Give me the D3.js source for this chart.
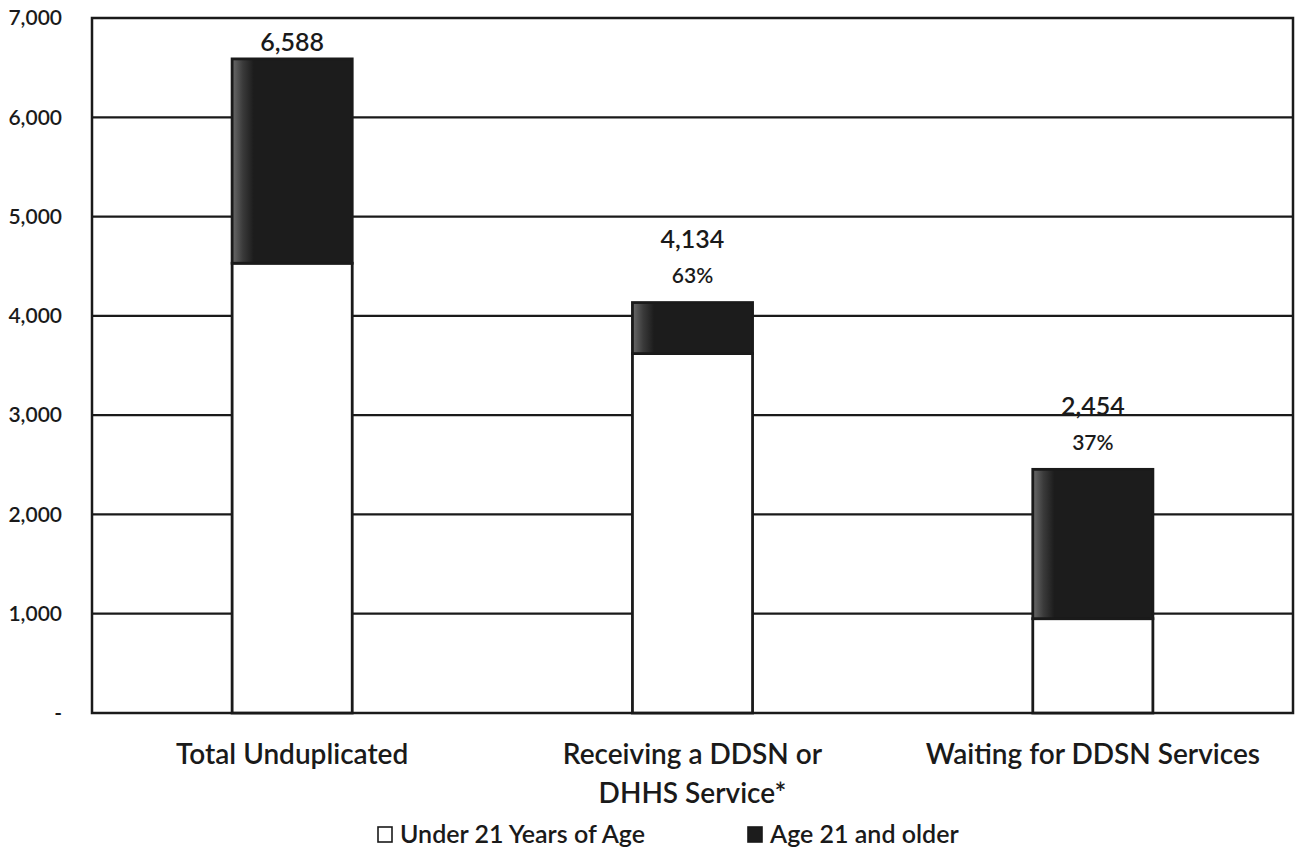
<!DOCTYPE html>
<html>
<head>
<meta charset="utf-8">
<script src="https://cdn.jsdelivr.net/npm/d3@7"></script>
<style>
  html, body { margin: 0; padding: 0; background: #fff; }
  svg { display: block; }
  text { font-family: Lato, "Open Sans", sans-serif; fill: #1a1a1a; }
</style>
</head>
<body>
<svg id="chart" width="1304" height="849"></svg>
<script>
// Program counts by age group
const categories = ["Total Unduplicated", "Receiving a DDSN or\nDHHS Service*", "Waiting for DDSN Services"];
const under21 = [4530, 3620, 950];
const age21Plus = [2058, 514, 1504];
const totalLabels = ["6,588", "4,134", "2,454"];
const shareLabels = ["", "63%", "37%"];
const seriesNames = ["Under 21 Years of Age", "Age 21 and older"];
const yTicks = [0, 1000, 2000, 3000, 4000, 5000, 6000, 7000];

const svg = d3.select("#chart");
const plot = { left: 92, right: 1293, top: 18, bottom: 713 };

const x = d3.scaleBand()
  .domain(categories)
  .range([plot.left, plot.right])
  .paddingInner(0.7)
  .paddingOuter(0.35);

const y = d3.scaleLinear().domain([0, 7000]).range([plot.bottom, plot.top]);

const ink = "#1a1a1a";
const dark = "#1c1c1c";

// gradient giving the dark segments a lighter left edge
const defs = svg.append("defs");
const grad = defs.append("linearGradient").attr("id", "darkFill").attr("x1", 0).attr("x2", 1).attr("y1", 0).attr("y2", 0);
grad.append("stop").attr("offset", "0%").attr("stop-color", "#6a6a6a");
grad.append("stop").attr("offset", "9%").attr("stop-color", "#3a3a3a");
grad.append("stop").attr("offset", "18%").attr("stop-color", dark);
grad.append("stop").attr("offset", "100%").attr("stop-color", dark);

// horizontal gridlines
svg.append("g")
  .selectAll("line")
  .data(yTicks.filter(t => t > 0 && t < 7000))
  .join("line")
  .attr("x1", plot.left).attr("x2", plot.right)
  .attr("y1", d => y(d)).attr("y2", d => y(d))
  .attr("stroke", ink).attr("stroke-width", 2.2);

// plot frame
svg.append("rect")
  .attr("x", plot.left).attr("y", plot.top)
  .attr("width", plot.right - plot.left).attr("height", plot.bottom - plot.top)
  .attr("fill", "none").attr("stroke", ink).attr("stroke-width", 2.5);

// y axis labels
const yAxis = d3.axisLeft(y)
  .tickValues(yTicks)
  .tickSize(0)
  .tickPadding(30)
  .tickFormat(d => d === 0 ? "-" : d3.format(",")(d));
const yg = svg.append("g").attr("transform", `translate(${plot.left},0)`).call(yAxis);
yg.select(".domain").remove();
yg.selectAll("text").attr("font-size", 21).attr("font-family", "Lato, sans-serif").attr("fill", ink)
  .attr("font-weight", 600);

// stacked bars
const rows = categories.map((c, i) => ({ c, u: under21[i], a: age21Plus[i], i }));
const bars = svg.append("g");
rows.forEach(r => {
  const bx = x(r.c), bw = x.bandwidth();
  bars.append("rect")
    .attr("x", bx).attr("y", y(r.u))
    .attr("width", bw).attr("height", y(0) - y(r.u))
    .attr("fill", "#fff").attr("stroke", ink).attr("stroke-width", 2.8);
  bars.append("rect")
    .attr("x", bx).attr("y", y(r.u + r.a))
    .attr("width", bw).attr("height", y(r.u) - y(r.u + r.a))
    .attr("fill", "url(#darkFill)").attr("stroke", ink).attr("stroke-width", 2.8);
});

// value labels above bars
const labels = svg.append("g").attr("text-anchor", "middle").attr("font-size", 25).attr("font-weight", 600);
rows.forEach(r => {
  const cx = x(r.c) + x.bandwidth() / 2;
  const top = y(r.u + r.a);
  if (shareLabels[r.i]) {
    labels.append("text").attr("x", cx).attr("y", top - 63).attr("dy", "0.35em").text(totalLabels[r.i]);
    labels.append("text").attr("x", cx).attr("y", top - 27).attr("dy", "0.35em")
      .attr("font-size", 21).text(shareLabels[r.i]);
  } else {
    labels.append("text").attr("x", cx).attr("y", top - 17).attr("dy", "0.35em").text(totalLabels[r.i]);
  }
});

// category labels
const xl = svg.append("g").attr("text-anchor", "middle").attr("font-size", 28).attr("font-weight", 600);
categories.forEach(c => {
  const cx = x(c) + x.bandwidth() / 2;
  c.split("\n").forEach((line, k) => {
    xl.append("text").attr("x", cx).attr("y", 754 + k * 39).attr("dy", "0.35em").text(line);
  });
});

// legend
const legend = svg.append("g").attr("font-size", 25).attr("font-weight", 600);
const legendItems = [
  { name: seriesNames[0], x: 378, fill: "#fff" },
  { name: seriesNames[1], x: 748, fill: dark }
];
legendItems.forEach(it => {
  legend.append("rect").attr("x", it.x).attr("y", 827).attr("width", 14).attr("height", 15)
    .attr("fill", it.fill).attr("stroke", ink).attr("stroke-width", 1.6);
  legend.append("text").attr("x", it.x + 22).attr("y", 834).attr("dy", "0.35em").text(it.name);
});
</script>
</body>
</html>
